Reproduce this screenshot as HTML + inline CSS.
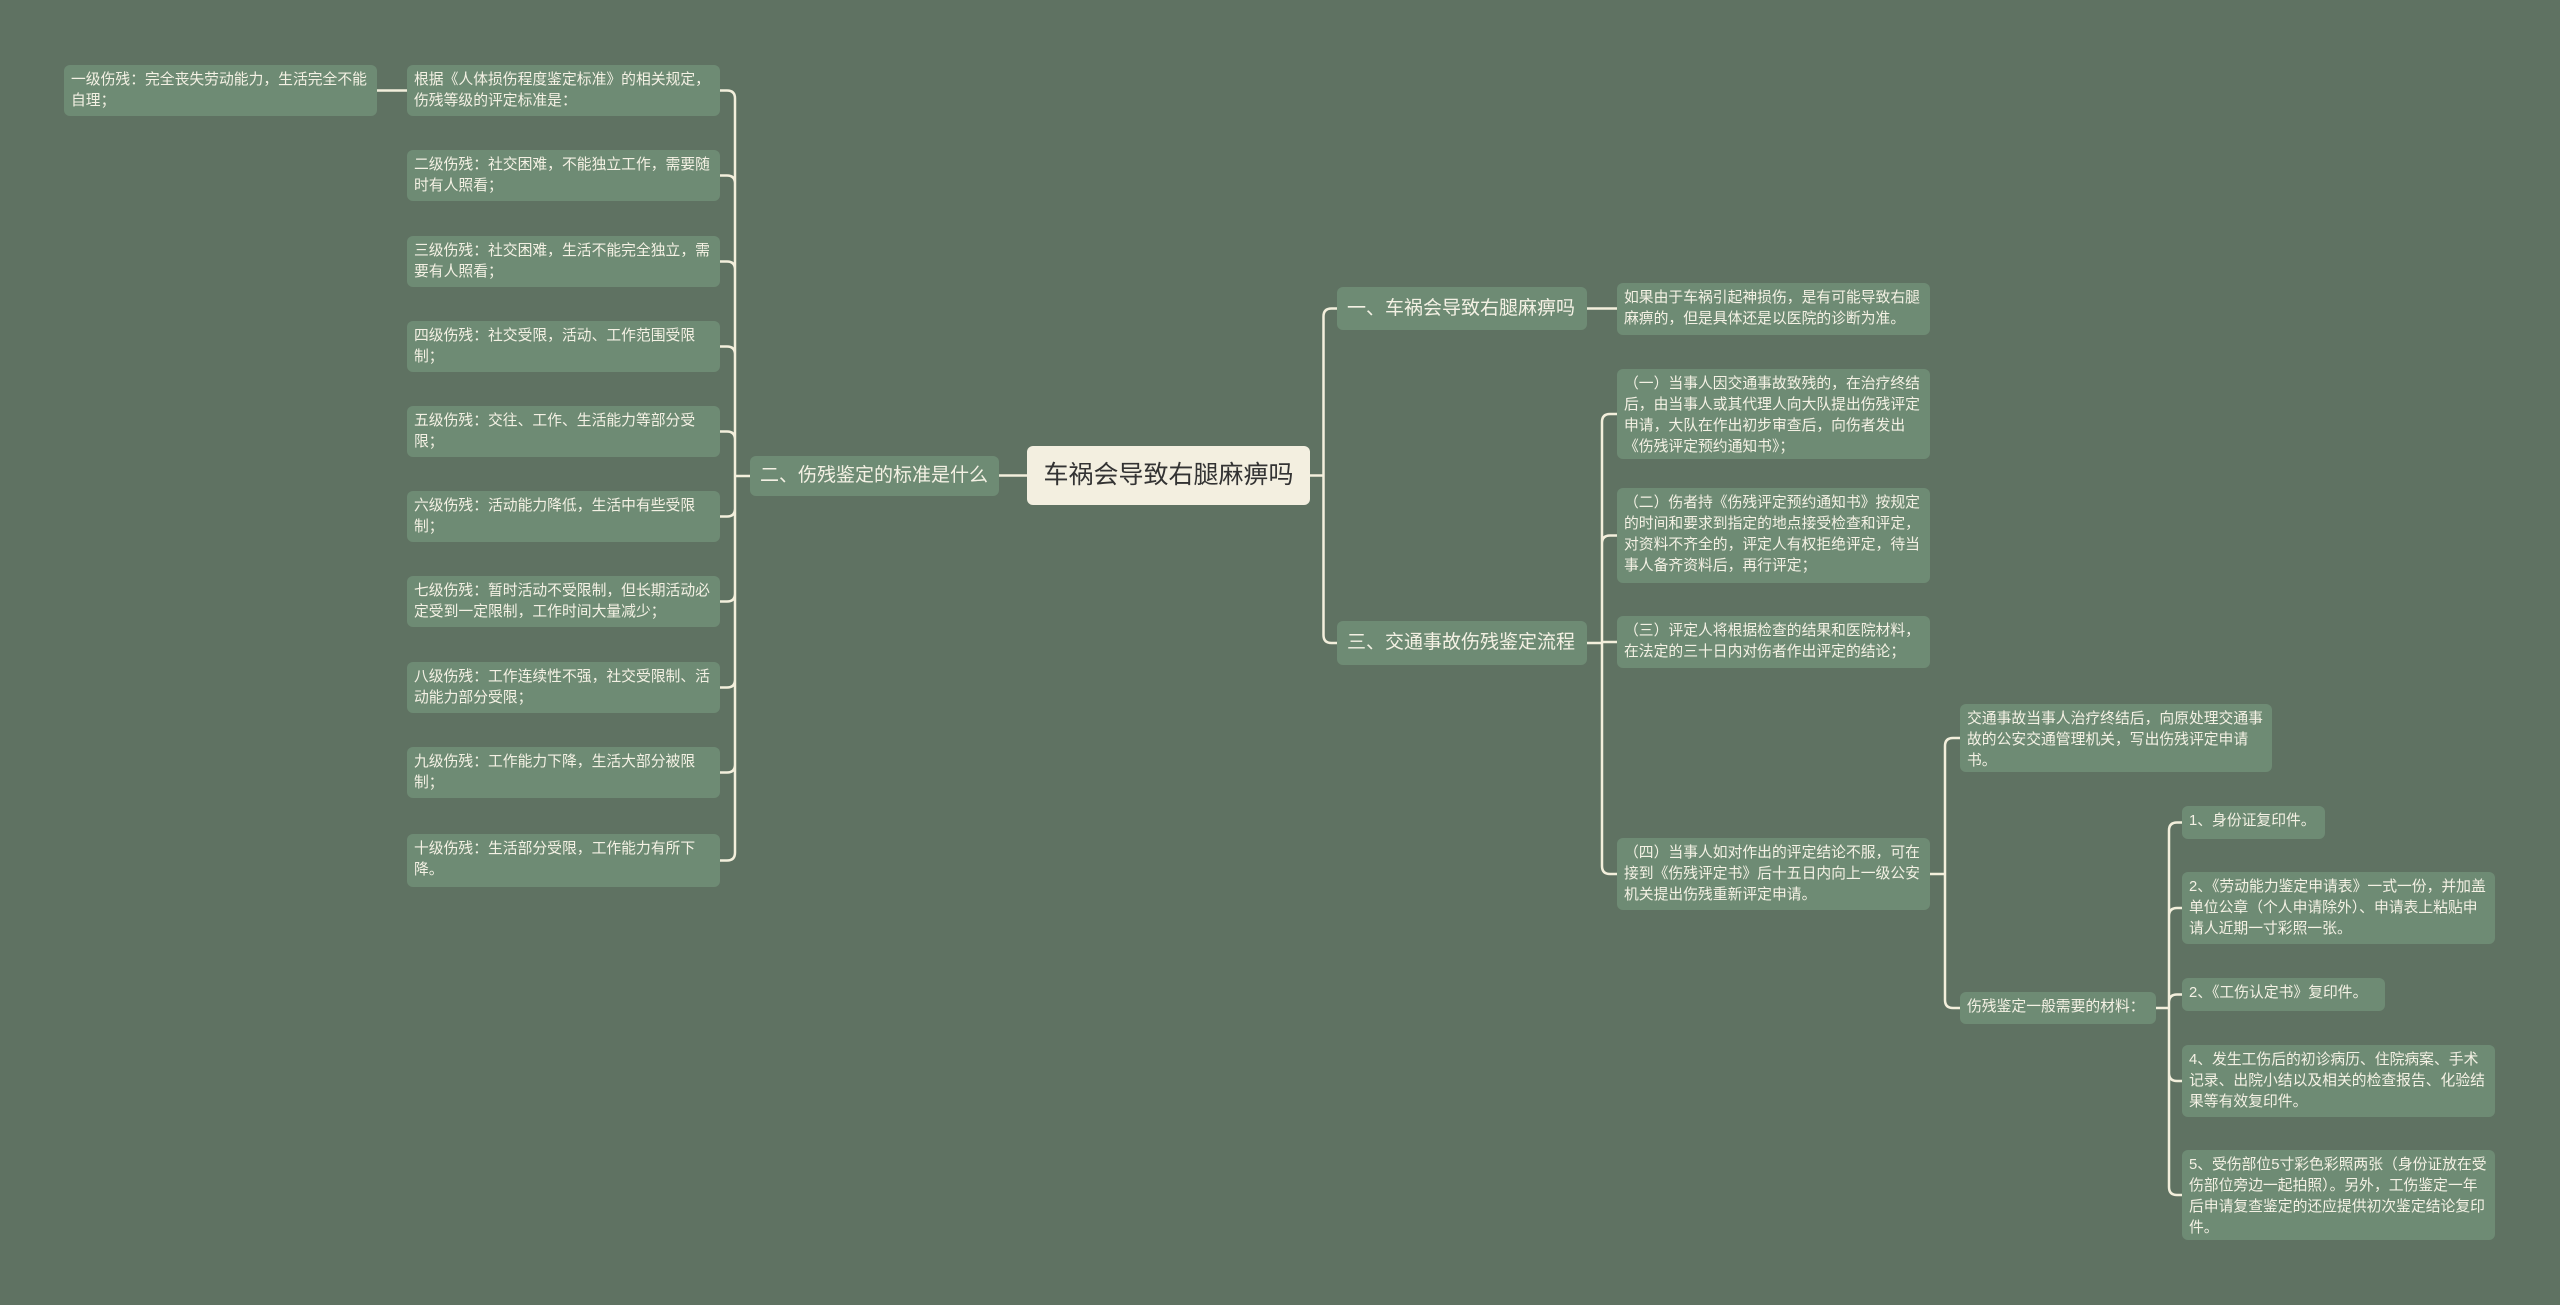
<!DOCTYPE html>
<html><head><meta charset="utf-8">
<style>
html,body{margin:0;padding:0;}
body{width:2560px;height:1305px;background:#5f7262;position:relative;overflow:hidden;font-family:"Liberation Sans","Noto Sans CJK SC",sans-serif;}
.n{position:absolute;box-sizing:border-box;background:#6e8b74;color:#f4f1e4;border-radius:6px;font-size:14.8px;line-height:21px;padding:5px 7px;}
.b{font-size:19px;line-height:24px;display:flex;align-items:center;padding:0 10px;white-space:nowrap;}
.r{background:#f3efe0;color:#333;font-size:25px;display:flex;align-items:center;justify-content:center;border-radius:6px;}
svg{position:absolute;left:0;top:0;}
</style></head><body>
<svg id="s" width="2560" height="1305"></svg>

<div class="n r" id="root" style="left:1027px;top:446px;width:283px;height:59px;">车祸会导致右腿麻痹吗</div>

<div class="n b" id="L" style="left:750px;top:456px;width:249px;height:40px;">二、伤残鉴定的标准是什么</div>
<div class="n" id="L0" style="left:407px;top:65px;width:313px;height:51px;">根据《人体损伤程度鉴定标准》的相关规定，伤残等级的评定标准是：</div>
<div class="n" id="LL" style="left:64px;top:65px;width:313px;height:51px;">一级伤残：完全丧失劳动能力，生活完全不能自理；</div>
<div class="n" id="L1" style="left:407px;top:150px;width:313px;height:51px;">二级伤残：社交困难，不能独立工作，需要随时有人照看；</div>
<div class="n" id="L2" style="left:407px;top:236px;width:313px;height:51px;">三级伤残：社交困难，生活不能完全独立，需要有人照看；</div>
<div class="n" id="L3" style="left:407px;top:321px;width:313px;height:51px;">四级伤残：社交受限，活动、工作范围受限制；</div>
<div class="n" id="L4" style="left:407px;top:406px;width:313px;height:51px;">五级伤残：交往、工作、生活能力等部分受限；</div>
<div class="n" id="L5" style="left:407px;top:491px;width:313px;height:51px;">六级伤残：活动能力降低，生活中有些受限制；</div>
<div class="n" id="L6" style="left:407px;top:576px;width:313px;height:51px;">七级伤残：暂时活动不受限制，但长期活动必定受到一定限制，工作时间大量减少；</div>
<div class="n" id="L7" style="left:407px;top:662px;width:313px;height:51px;">八级伤残：工作连续性不强，社交受限制、活动能力部分受限；</div>
<div class="n" id="L8" style="left:407px;top:747px;width:313px;height:51px;">九级伤残：工作能力下降，生活大部分被限制；</div>
<div class="n" id="L9" style="left:407px;top:834px;width:313px;height:53px;">十级伤残：生活部分受限，工作能力有所下降。</div>

<div class="n b" id="R1" style="left:1337px;top:287px;width:250px;height:43px;">一、车祸会导致右腿麻痹吗</div>
<div class="n" id="R1a" style="left:1617px;top:283px;width:313px;height:52px;">如果由于车祸引起神损伤，是有可能导致右腿麻痹的，但是具体还是以医院的诊断为准。</div>
<div class="n b" id="R3" style="left:1337px;top:621px;width:250px;height:44px;">三、交通事故伤残鉴定流程</div>
<div class="n" id="R3a" style="left:1617px;top:369px;width:313px;height:90px;">（一）当事人因交通事故致残的，在治疗终结后，由当事人或其代理人向大队提出伤残评定申请，大队在作出初步审查后，向伤者发出《伤残评定预约通知书》；</div>
<div class="n" id="R3b" style="left:1617px;top:488px;width:313px;height:95px;">（二）伤者持《伤残评定预约通知书》按规定的时间和要求到指定的地点接受检查和评定，对资料不齐全的，评定人有权拒绝评定，待当事人备齐资料后，再行评定；</div>
<div class="n" id="R3c" style="left:1617px;top:616px;width:313px;height:52px;">（三）评定人将根据检查的结果和医院材料，在法定的三十日内对伤者作出评定的结论；</div>
<div class="n" id="R3d" style="left:1617px;top:838px;width:313px;height:72px;">（四）当事人如对作出的评定结论不服，可在接到《伤残评定书》后十五日内向上一级公安机关提出伤残重新评定申请。</div>
<div class="n" id="D1" style="left:1960px;top:704px;width:312px;height:68px;">交通事故当事人治疗终结后，向原处理交通事故的公安交通管理机关，写出伤残评定申请书。</div>
<div class="n" id="D2" style="left:1960px;top:992px;width:196px;height:32px;white-space:nowrap;">伤残鉴定一般需要的材料：</div>
<div class="n" id="M1" style="left:2182px;top:806px;width:143px;height:33px;white-space:nowrap;">1、身份证复印件。</div>
<div class="n" id="M2" style="left:2182px;top:872px;width:313px;height:72px;">2、《劳动能力鉴定申请表》一式一份，并加盖单位公章（个人申请除外）、申请表上粘贴申请人近期一寸彩照一张。</div>
<div class="n" id="M3" style="left:2182px;top:978px;width:203px;height:33px;white-space:nowrap;">2、《工伤认定书》复印件。</div>
<div class="n" id="M4" style="left:2182px;top:1045px;width:313px;height:72px;">4、发生工伤后的初诊病历、住院病案、手术记录、出院小结以及相关的检查报告、化验结果等有效复印件。</div>
<div class="n" id="M5" style="left:2182px;top:1150px;width:313px;height:90px;">5、受伤部位5寸彩色彩照两张（身份证放在受伤部位旁边一起拍照）。另外，工伤鉴定一年后申请复查鉴定的还应提供初次鉴定结论复印件。</div>

<script>
var s=document.getElementById('s'),P='';
function bx(id){var e=document.getElementById(id);return{x:e.offsetLeft,y:e.offsetTop,w:e.offsetWidth,h:e.offsetHeight};}
function conR(p,cs){var a=bx(p),x0=a.x+a.w,y0=a.y+a.h/2;var c0=bx(cs[0]);var bxX=(x0+c0.x)/2;
 P+='M'+x0+' '+y0+'H'+bxX;
 cs.forEach(function(c){var b=bx(c),y=b.y+b.h/2,ex=b.x;var r=Math.min(8,Math.abs(y-y0));
  if(Math.abs(y-y0)<1){P+='M'+bxX+' '+y0+'H'+ex;return;}
  var d=y>y0?1:-1;P+='M'+bxX+' '+y0+'V'+(y-d*r)+'Q'+bxX+' '+y+' '+(bxX+r)+' '+y+'H'+ex;});}
function conL(p,cs){var a=bx(p),x0=a.x,y0=a.y+a.h/2;var c0=bx(cs[0]);var bxX=(x0+c0.x+c0.w)/2;
 P+='M'+x0+' '+y0+'H'+bxX;
 cs.forEach(function(c){var b=bx(c),y=b.y+b.h/2,ex=b.x+b.w;var r=Math.min(8,Math.abs(y-y0));
  if(Math.abs(y-y0)<1){P+='M'+bxX+' '+y0+'H'+ex;return;}
  var d=y>y0?1:-1;P+='M'+bxX+' '+y0+'V'+(y-d*r)+'Q'+bxX+' '+y+' '+(bxX-r)+' '+y+'H'+ex;});}
conR('root',['R1','R3']);
conR('R1',['R1a']);
conR('R3',['R3a','R3b','R3c','R3d']);
conR('R3d',['D1','D2']);
conR('D2',['M1','M2','M3','M4','M5']);
conL('root',['L']);
conL('L',['L0','L1','L2','L3','L4','L5','L6','L7','L8','L9']);
conL('L0',['LL']);
s.innerHTML='<path d="'+P+'" fill="none" stroke="#f3efdc" stroke-width="2.5"/>';
</script>
</body></html>
